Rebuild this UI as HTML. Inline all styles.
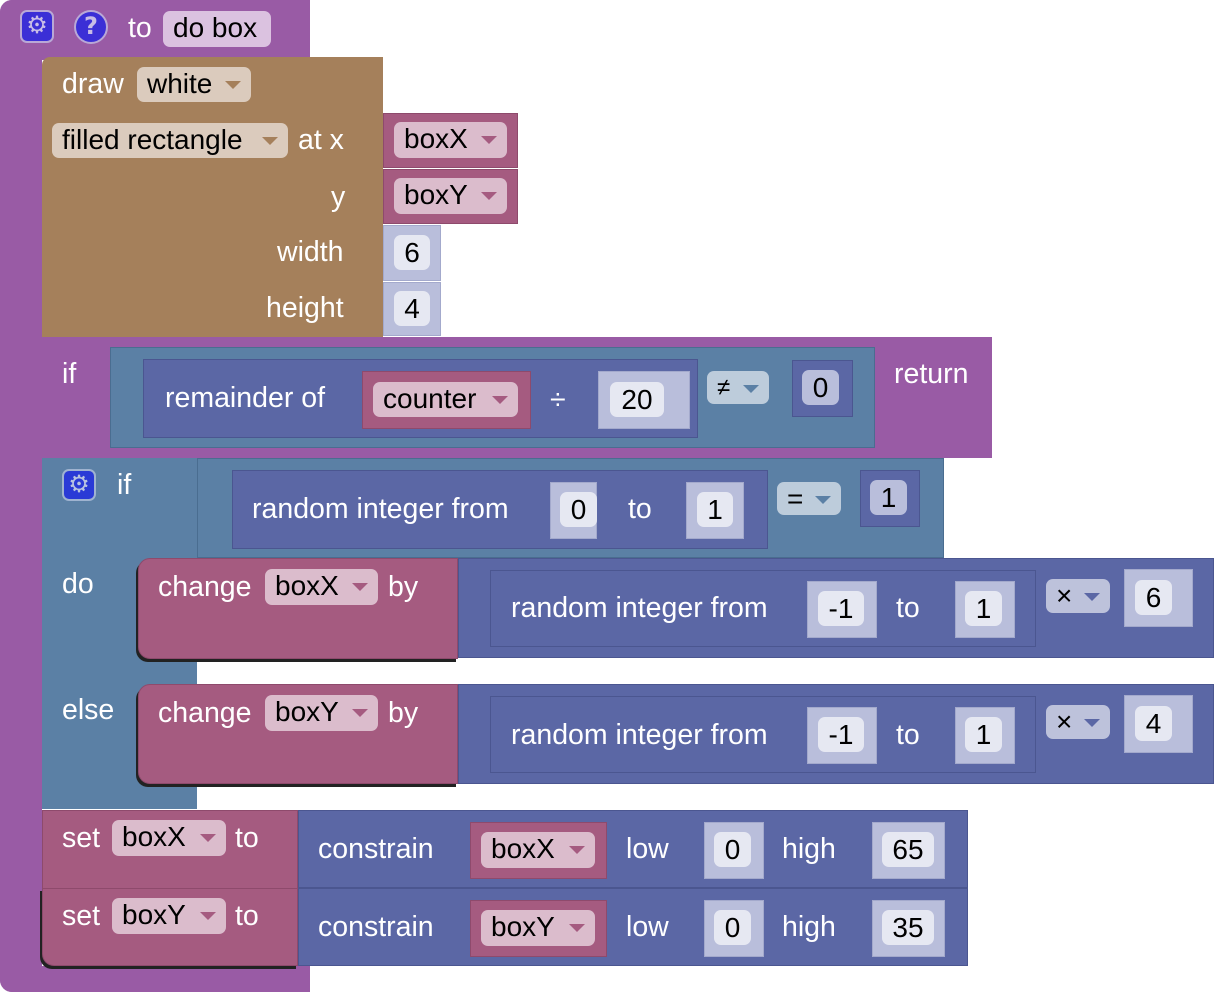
<!DOCTYPE html>
<html><head><meta charset="utf-8"><style>
body{margin:0;width:1214px;height:992px;background:#fff;position:relative;overflow:hidden;font-family:"Liberation Sans",Arial,sans-serif}
div{position:absolute;box-sizing:border-box}
.P{background:#995ba5}.B{background:#a5805b}.T{background:#5b80a5;border:1px solid #4a6d90}.M{background:#5b67a5;border:1px solid #4b5690}.V{background:#a55b80;border:1px solid #8e4a6c}.N{background:#b9bedb;border:1px solid #a3a9cc}
.F{background:#e6e8f2;border-radius:7px;color:#000;font-size:28px;text-align:center;line-height:36px}
.DD{border-radius:7px;color:#000;font-size:28px;line-height:34px;padding-left:10px;white-space:nowrap}
.DD:after{content:"";position:absolute;right:10px;top:14px;border:8px solid transparent;border-top:8px solid;border-bottom:0;border-top-color:inherit}
.DN{border-radius:7px;color:#000;font-size:28px;line-height:34px;padding-left:10px;white-space:nowrap}
.t{color:#fff;font-size:28.5px;line-height:30px;white-space:nowrap}
.g{background:#3b2fd6;border:2px solid #b9a8d6;border-radius:7px;color:#c8bde6;font-size:24px;line-height:28px;text-align:center}
</style></head><body>
<!-- procedure -->
<div class="P" style="left:0;top:0;width:310px;height:60px;border-radius:12px 0 0 0"></div>
<div class="P" style="left:0;top:0;width:42px;height:992px;border-radius:12px 0 0 12px"></div>
<div class="P" style="left:0;top:966px;width:310px;height:26px;border-radius:0 0 0 12px"></div>
<div class="g" style="left:20px;top:10px;width:34px;height:33px">⚙</div>
<div class="g" style="left:74px;top:10px;width:34px;height:34px;border-radius:50%;font-weight:bold;font-family:'DejaVu Sans'">?</div>
<div class="t" style="left:128px;top:13px">to</div>
<div class="DN" style="left:163px;top:11px;width:108px;height:36px;background:#dbc2e0">do box</div>

<!-- draw block -->
<div class="B" style="left:42px;top:57px;width:341px;height:280px;border-radius:8px 0 0 0"></div>
<div class="t" style="left:62px;top:69px">draw</div>
<div class="DD" style="left:137px;top:67px;width:114px;height:35px;background:#dbcbbd;border-top-color:#a5805b">white</div>
<div class="DD" style="left:52px;top:123px;width:236px;height:35px;background:#dbcbbd;border-top-color:#a5805b">filled rectangle</div>
<div class="t" style="left:298px;top:125px">at x</div>
<div class="V" style="left:383px;top:113px;width:135px;height:55px"></div>
<div class="DD" style="left:394px;top:122px;width:113px;height:36px;background:#dbbccc;border-top-color:#a55b80">boxX</div>
<div class="t" style="left:331px;top:182px">y</div>
<div class="V" style="left:383px;top:169px;width:135px;height:55px"></div>
<div class="DD" style="left:394px;top:178px;width:113px;height:36px;background:#dbbccc;border-top-color:#a55b80">boxY</div>
<div class="t" style="left:277px;top:237px">width</div>
<div class="N" style="left:383px;top:225px;width:58px;height:56px"></div>
<div class="F" style="left:394px;top:235px;width:36px;height:35px">6</div>
<div class="t" style="left:266px;top:293px">height</div>
<div class="N" style="left:383px;top:282px;width:58px;height:54px"></div>
<div class="F" style="left:394px;top:291px;width:36px;height:35px">4</div>

<!-- if return -->
<div class="P" style="left:42px;top:337px;width:950px;height:121px"></div>
<div class="t" style="left:62px;top:359px">if</div>
<div class="T" style="left:110px;top:347px;width:765px;height:101px"></div>
<div class="M" style="left:143px;top:359px;width:555px;height:79px"></div>
<div class="t" style="left:165px;top:383px">remainder of</div>
<div class="V" style="left:362px;top:371px;width:169px;height:58px"></div>
<div class="DD" style="left:373px;top:382px;width:145px;height:35px;background:#dbbccc;border-top-color:#a55b80">counter</div>
<div class="t" style="left:550px;top:385px">÷</div>
<div class="N" style="left:598px;top:371px;width:92px;height:58px"></div>
<div class="F" style="left:610px;top:382px;width:54px;height:35px">20</div>
<div class="DD" style="left:707px;top:371px;width:62px;height:33px;background:#bdccdb;border-top-color:#5b80a5;font-size:24px">≠</div>
<div class="M" style="left:792px;top:360px;width:61px;height:57px"></div>
<div class="F" style="left:802px;top:370px;width:37px;height:35px;background:#b9bedb">0</div>
<div class="t" style="left:894px;top:359px">return</div>

<!-- if else -->
<div class="T" style="left:42px;top:458px;width:902px;height:100px;border:0"></div>
<div class="T" style="left:42px;top:458px;width:155px;height:351px;border:0"></div>
<div class="T" style="left:197px;top:458px;width:747px;height:100px"></div>
<div class="g" style="left:62px;top:469px;width:34px;height:32px;background:#2a3ad6;border-color:#9fb3d0;color:#b8c3e0">⚙</div>
<div class="t" style="left:117px;top:470px">if</div>
<div class="M" style="left:232px;top:470px;width:536px;height:79px"></div>
<div class="t" style="left:252px;top:494px">random integer from</div>
<div class="N" style="left:550px;top:482px;width:47px;height:57px"></div>
<div class="F" style="left:560px;top:492px;width:37px;height:35px">0</div>
<div class="t" style="left:628px;top:494px">to</div>
<div class="N" style="left:686px;top:482px;width:58px;height:57px"></div>
<div class="F" style="left:697px;top:492px;width:36px;height:35px">1</div>
<div class="DD" style="left:777px;top:482px;width:64px;height:33px;background:#bdccdb;border-top-color:#5b80a5">=</div>
<div class="M" style="left:860px;top:470px;width:60px;height:57px"></div>
<div class="F" style="left:870px;top:480px;width:37px;height:35px;background:#b9bedb">1</div>
<div class="t" style="left:62px;top:569px">do</div>
<div class="t" style="left:62px;top:695px">else</div>

<!-- change boxX -->
<div class="V" style="left:138px;top:558px;width:320px;height:101px;border-radius:12px 0 0 12px;box-shadow:-2px 3px 0 #222"></div>
<div class="t" style="left:158px;top:572px">change</div>
<div class="DD" style="left:265px;top:569px;width:113px;height:36px;background:#dbbccc;border-top-color:#a55b80">boxX</div>
<div class="t" style="left:388px;top:572px">by</div>
<div class="M" style="left:458px;top:558px;width:756px;height:100px"></div>
<div class="M" style="left:490px;top:570px;width:546px;height:77px"></div>
<div class="t" style="left:511px;top:593px">random integer from</div>
<div class="N" style="left:807px;top:581px;width:70px;height:57px"></div>
<div class="F" style="left:818px;top:591px;width:46px;height:35px">-1</div>
<div class="t" style="left:896px;top:593px">to</div>
<div class="N" style="left:955px;top:581px;width:60px;height:57px"></div>
<div class="F" style="left:965px;top:591px;width:37px;height:35px">1</div>
<div class="DD" style="left:1046px;top:579px;width:64px;height:34px;background:#bdc2db;border-top-color:#5b67a5">×</div>
<div class="N" style="left:1124px;top:569px;width:69px;height:58px"></div>
<div class="F" style="left:1135px;top:580px;width:37px;height:35px">6</div>

<!-- change boxY -->
<div class="V" style="left:138px;top:684px;width:320px;height:100px;border-radius:12px 0 0 12px;box-shadow:-2px 3px 0 #222"></div>
<div class="t" style="left:158px;top:698px">change</div>
<div class="DD" style="left:265px;top:695px;width:113px;height:36px;background:#dbbccc;border-top-color:#a55b80">boxY</div>
<div class="t" style="left:388px;top:698px">by</div>
<div class="M" style="left:458px;top:684px;width:756px;height:100px"></div>
<div class="M" style="left:490px;top:696px;width:546px;height:77px"></div>
<div class="t" style="left:511px;top:720px">random integer from</div>
<div class="N" style="left:807px;top:707px;width:70px;height:57px"></div>
<div class="F" style="left:818px;top:717px;width:46px;height:35px">-1</div>
<div class="t" style="left:896px;top:720px">to</div>
<div class="N" style="left:955px;top:707px;width:60px;height:57px"></div>
<div class="F" style="left:965px;top:717px;width:37px;height:35px">1</div>
<div class="DD" style="left:1046px;top:705px;width:64px;height:34px;background:#bdc2db;border-top-color:#5b67a5">×</div>
<div class="N" style="left:1124px;top:695px;width:69px;height:58px"></div>
<div class="F" style="left:1135px;top:706px;width:37px;height:35px">4</div>

<!-- set boxX -->
<div class="V" style="left:42px;top:810px;width:256px;height:79px"></div>
<div class="t" style="left:62px;top:823px">set</div>
<div class="DD" style="left:112px;top:820px;width:114px;height:36px;background:#dbbccc;border-top-color:#a55b80">boxX</div>
<div class="t" style="left:235px;top:823px">to</div>
<div class="M" style="left:298px;top:810px;width:670px;height:78px"></div>
<div class="t" style="left:318px;top:834px">constrain</div>
<div class="V" style="left:470px;top:822px;width:137px;height:57px"></div>
<div class="DD" style="left:481px;top:832px;width:114px;height:36px;background:#dbbccc;border-top-color:#a55b80">boxX</div>
<div class="t" style="left:626px;top:834px">low</div>
<div class="N" style="left:704px;top:822px;width:60px;height:57px"></div>
<div class="F" style="left:714px;top:832px;width:37px;height:35px">0</div>
<div class="t" style="left:782px;top:834px">high</div>
<div class="N" style="left:872px;top:822px;width:73px;height:57px"></div>
<div class="F" style="left:882px;top:832px;width:52px;height:35px">65</div>

<!-- set boxY -->
<div class="V" style="left:42px;top:888px;width:256px;height:78px;border-radius:0 0 0 12px;box-shadow:-2px 3px 0 #222"></div>
<div class="t" style="left:62px;top:901px">set</div>
<div class="DD" style="left:112px;top:898px;width:114px;height:36px;background:#dbbccc;border-top-color:#a55b80">boxY</div>
<div class="t" style="left:235px;top:901px">to</div>
<div class="M" style="left:298px;top:888px;width:670px;height:78px"></div>
<div class="t" style="left:318px;top:912px">constrain</div>
<div class="V" style="left:470px;top:900px;width:137px;height:57px"></div>
<div class="DD" style="left:481px;top:910px;width:114px;height:36px;background:#dbbccc;border-top-color:#a55b80">boxY</div>
<div class="t" style="left:626px;top:912px">low</div>
<div class="N" style="left:704px;top:900px;width:60px;height:57px"></div>
<div class="F" style="left:714px;top:910px;width:37px;height:35px">0</div>
<div class="t" style="left:782px;top:912px">high</div>
<div class="N" style="left:872px;top:900px;width:73px;height:57px"></div>
<div class="F" style="left:882px;top:910px;width:52px;height:35px">35</div>
</body></html>
